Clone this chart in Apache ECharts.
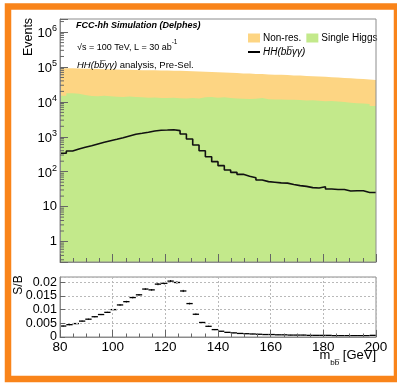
<!DOCTYPE html>
<html>
<head>
<meta charset="utf-8">
<script src="https://cdn.jsdelivr.net/npm/echarts@6/dist/echarts.min.js"></script>
<style>
html,body{margin:0;padding:0;background:#fff;}
#chart{width:397px;height:385px;}
</style>
</head>
<body>
<div id="chart"></div>
<script>
// ---- data ----
const binEdges = [80, 82.4, 84.8, 87.2, 89.6, 92, 94.4, 96.8, 99.2, 101.6, 104, 106.4, 108.8, 111.2, 113.6, 116, 118.4, 120.8, 123.2, 125.6, 128, 130.4, 132.8, 135.2, 137.6, 140, 142.4, 144.8, 147.2, 149.6, 152, 154.4, 156.8, 159.2, 161.6, 164, 166.4, 168.8, 171.2, 173.6, 176, 178.4, 180.8, 183.2, 185.6, 188, 190.4, 192.8, 195.2, 197.6];
const binWidth = 2.4;
const singleHiggs = [15000, 17600, 17000, 15700, 14800, 14600, 14900, 14400, 14100, 13900, 14300, 13700, 13500, 13200, 13400, 13000, 12900, 13100, 12700, 12600, 12900, 12500, 13500, 13800, 13200, 13600, 12900, 12500, 12300, 12100, 12400, 13000, 11900, 11700, 11800, 11500, 11600, 11300, 11000, 11100, 10700, 10500, 10600, 10200, 10000, 9500, 9200, 9000, 8700, 7600];
const nonRes = [76800, 74900, 74000, 73800, 73800, 72600, 71600, 71100, 70800, 70100, 69300, 68700, 67800, 67700, 66700, 66400, 65900, 64800, 64700, 63600, 62400, 61600, 59700, 58200, 57400, 55900, 55400, 54300, 53200, 52500, 50900, 49500, 49500, 48600, 47700, 47100, 45900, 45300, 44200, 43200, 42300, 41600, 40400, 39600, 38500, 37700, 36800, 36000, 35300, 35100];
const signalHH = [337, 392, 447, 500, 556, 622, 695, 773, 848, 942, 1055, 1180, 1259, 1345, 1466, 1535, 1560, 1600, 1500, 1203, 865, 582, 400, 269, 194, 149, 112, 96, 84, 74, 67, 58, 52, 50, 48, 47, 43, 40, 38, 35, 34, 37, 32, 31, 31, 28, 28.6, 28.5, 25.4, 25.4];
const sOverB = [0.0040, 0.0045, 0.0049, 0.0058, 0.0065, 0.0074, 0.0082, 0.0090, 0.0100, 0.0117, 0.0129, 0.0144, 0.0154, 0.0175, 0.0172, 0.0193, 0.0196, 0.0204, 0.0199, 0.0168, 0.0122, 0.0083, 0.0053, 0.0039, 0.0027, 0.0021, 0.0017, 0.0015, 0.0013, 0.0012, 0.0011, 0.0010, 0.0009, 0.0009, 0.0008, 0.0008, 0.0007, 0.0007, 0.0007, 0.0006, 0.0006, 0.0006, 0.0006, 0.0005, 0.0005, 0.0005, 0.0005, 0.0005, 0.0005, 0.0006];
const sOverBErr = [0.0002, 0.0002, 0.0002, 0.0002, 0.0002, 0.0002, 0.0002, 0.0002, 0.0002, 0.0003, 0.0003, 0.0003, 0.0003, 0.0003, 0.0003, 0.0004, 0.0004, 0.0004, 0.0004, 0.0004, 0.0003, 0.0003, 0.0002, 0.0002, 0.0002, 0.0001, 0.0001, 0.0001, 0.0001, 0.0001, 0.0001, 0.0001, 0.0001, 0.0001, 0.0001, 0.0001, 0.0001, 0.0001, 0.0001, 0.0001, 0.0001, 0.0001, 0.0001, 0.0001, 0.0001, 0.0001, 0.0001, 0.0001, 0.0001, 0.0001];
const xTicks = [80, 100, 120, 140, 160, 180, 200];
const yDecades = [1, 10, 100, 1000, 10000, 100000, 1000000];

const xMin = 80, xMax = 200;
const yMinLog = 0.259, yMaxLog = 2.37e6;
const sbMax = 0.0219;

const FONT = '"Liberation Sans", Arial, Helvetica, sans-serif';
const cGreen = '#c3e98b';
const cOrange = '#fdd583';
const cBorder = '#f9841a';

// stacked histogram: non-res sits on top of single Higgs
const stackedTotal = singleHiggs.map((v, i) => v + nonRes[i]);

function stepData(vals) {
  const d = binEdges.map((e, i) => [e, vals[i]]);
  d.push([binEdges[binEdges.length - 1] + binWidth, vals[vals.length - 1]]);
  return d;
}
// minor log ticks 2..9 x 10^n inside the range
const minorLog = [];
for (let n = -1; n <= 6; n++) {
  for (let k = 2; k <= 9; k++) {
    const v = k * Math.pow(10, n);
    if (v > yMinLog && v < yMaxLog) minorLog.push([xMin, v]);
  }
}

const HHname = 'HH(bb\u0305\u03b3\u03b3)';

const chart = echarts.init(document.getElementById('chart'), null, {renderer: 'canvas'});
const option = {
  animation: false,
  backgroundColor: '#fff',
  textStyle: {fontFamily: FONT},
  grid: [
    {left: 60, top: 19, width: 316, height: 243, show: true, borderColor: '#8c8c8c', borderWidth: 1, backgroundColor: 'transparent', z: 5, outerBoundsMode: 'none'},
    {left: 60, top: 277, width: 316, height: 60, show: true, borderColor: '#8c8c8c', borderWidth: 1, backgroundColor: 'transparent', z: 5, outerBoundsMode: 'none'}
  ],
  legend: [
    {
      data: ['Non-res.', 'Single Higgs'], left: 243, top: 28, orient: 'horizontal',
      itemWidth: 12, itemHeight: 9, itemGap: 5, icon: 'rect', selectedMode: false,
      textStyle: {fontFamily: FONT, fontSize: 10, color: '#000', padding: [0, 0, 0, -2]}
    },
    {
      data: [HHname], left: 243, top: 42, itemWidth: 12, itemHeight: 2, icon: 'rect', selectedMode: false,
      textStyle: {fontFamily: FONT, fontSize: 10, color: '#000', fontStyle: 'italic', padding: [0, 0, 0, -2]}
    }
  ],
  xAxis: [
    {
      type: 'value', gridIndex: 0, min: xMin, max: xMax, interval: 20, z: 10,
      axisLine: {show: true, lineStyle: {color: '#8c8c8c'}},
      axisTick: {show: true, inside: true, length: 8, lineStyle: {color: '#666'}},
      minorTick: {show: true, splitNumber: 4, length: 4, lineStyle: {color: '#666'}},
      axisLabel: {show: false}, splitLine: {show: false}
    },
    {
      type: 'value', gridIndex: 1, min: xMin, max: xMax, interval: 20, z: 10,
      axisLine: {show: true, lineStyle: {color: '#8c8c8c'}},
      axisTick: {show: true, inside: true, length: 7, lineStyle: {color: '#666'}},
      minorTick: {show: true, splitNumber: 4, length: 3.5, lineStyle: {color: '#666'}},
      axisLabel: {show: true, fontFamily: FONT, fontSize: 13.5, color: '#000', margin: 3},
      splitLine: {show: true, lineStyle: {color: '#b9b9b9', type: [2, 2], width: 1}}
    }
  ],
  yAxis: [
    {
      type: 'log', logBase: 10, gridIndex: 0, min: yMinLog, max: yMaxLog, z: 10,
      axisLine: {show: true, lineStyle: {color: '#8c8c8c'}},
      axisTick: {show: true, inside: true, length: 8, lineStyle: {color: '#666'}},
      splitLine: {show: false},
      axisLabel: {
        show: true, margin: 3, fontFamily: FONT, fontSize: 13, color: '#000',
        formatter: function (v) {
          const l = Math.log10(v);
          const e = Math.round(l);
          if (Math.abs(l - e) > 1e-6) return '';
          if (e === 0) return '1';
          if (e === 1) return '10';
          return '{b|10}{s|' + e + '}';
        },
        rich: {
          b: {fontFamily: FONT, fontSize: 13, lineHeight: 16, verticalAlign: 'bottom', color: '#000'},
          s: {fontFamily: FONT, fontSize: 9, lineHeight: 16, verticalAlign: 'top', color: '#000'}
        }
      }
    },
    {
      type: 'value', gridIndex: 1, min: 0, max: sbMax, interval: 0.005, z: 10,
      axisLine: {show: true, lineStyle: {color: '#8c8c8c'}},
      axisTick: {show: true, inside: true, length: 5, lineStyle: {color: '#666'}},
      splitLine: {show: true, lineStyle: {color: '#b9b9b9', type: [2, 2], width: 1}},
      axisLabel: {show: true, showMaxLabel: false, margin: 3, fontFamily: FONT, fontSize: 12.5, color: '#000',
        formatter: function (v) { return Math.abs(v / 0.005 - Math.round(v / 0.005)) > 1e-6 ? '' : String(+v.toFixed(4)); }
      }
    }
  ],
  series: [
    {
      name: 'Non-res.', type: 'line', xAxisIndex: 0, yAxisIndex: 0, step: 'end',
      data: stepData(stackedTotal), showSymbol: false, symbol: 'none', z: 1,
      color: cOrange, lineStyle: {width: 0, color: cOrange}, areaStyle: {color: cOrange, opacity: 1, origin: 'start'}
    },
    {
      name: 'Single Higgs', type: 'line', xAxisIndex: 0, yAxisIndex: 0, step: 'end',
      data: stepData(singleHiggs), showSymbol: false, symbol: 'none', z: 2,
      color: cGreen, lineStyle: {width: 0, color: cGreen}, areaStyle: {color: cGreen, opacity: 1, origin: 'start'}
    },
    {
      name: HHname, type: 'line', xAxisIndex: 0, yAxisIndex: 0, step: 'end',
      data: stepData(signalHH), showSymbol: false, symbol: 'none', z: 3,
      color: '#000', lineStyle: {width: 1.6, color: '#111'}
    },
    {
      name: 'minorLogTicks', type: 'custom', xAxisIndex: 0, yAxisIndex: 0, z: 11, silent: true,
      data: minorLog, encode: {x: 0, y: 1}, clip: false,
      renderItem: function (params, api) {
        const p = api.coord([api.value(0), api.value(1)]);
        return {type: 'line', shape: {x1: p[0], y1: p[1], x2: p[0] + 4, y2: p[1]}, style: {stroke: '#666', lineWidth: 1}};
      }
    },
    {
      name: 'S/B', type: 'custom', xAxisIndex: 1, yAxisIndex: 1, z: 4,
      data: sOverB.map((v, i) => [binEdges[i], binEdges[i] + binWidth, v, sOverBErr[i]]),
      encode: {x: [0, 1], y: 2},
      renderItem: function (params, api) {
        const lo = api.coord([api.value(0), api.value(2)]);
        const hi = api.coord([api.value(1), api.value(2)]);
        const mid = (api.value(0) + api.value(1)) / 2;
        const top = api.coord([mid, api.value(2) + api.value(3)]);
        const bot = api.coord([mid, api.value(2) - api.value(3)]);
        return {type: 'group', children: [
          {type: 'line', shape: {x1: lo[0], y1: lo[1], x2: hi[0], y2: hi[1]}, style: {stroke: '#000', lineWidth: 1.3}},
          {type: 'line', shape: {x1: top[0], y1: top[1], x2: bot[0], y2: bot[1]}, style: {stroke: '#000', lineWidth: 1}}
        ]};
      }
    }
  ],
  graphic: [
    {type: 'rect', z: 100, silent: true, shape: {x: 8, y: 6.5, width: 389, height: 372.5}, style: {fill: 'none', stroke: cBorder, lineWidth: 6.5}},
    {type: 'text', z: 50, x: 29, y: 37, rotation: Math.PI / 2, style: {text: 'Events', fontFamily: FONT, fontSize: 12.5, fill: '#000', align: 'center', verticalAlign: 'middle'}},
    {type: 'text', z: 50, x: 19, y: 285, rotation: Math.PI / 2, style: {text: 'S/B', fontFamily: FONT, fontSize: 12, fill: '#000', align: 'center', verticalAlign: 'middle'}},
    {type: 'text', z: 50, x: 76, y: 25.7, style: {text: 'FCC-hh Simulation (Delphes)', fontFamily: FONT, fontSize: 9, fontWeight: 'bold', fontStyle: 'italic', fill: '#000', align: 'left', verticalAlign: 'middle'}},
    {type: 'text', z: 50, x: 77, y: 45.7, style: {
      text: '{n|\u221as = 100 TeV, L = 30 ab}{s|-1}', align: 'left', verticalAlign: 'middle',
      rich: {n: {fontFamily: FONT, fontSize: 9, lineHeight: 13, verticalAlign: 'bottom', fill: '#000'}, s: {fontFamily: FONT, fontSize: 6.5, lineHeight: 13, verticalAlign: 'top', fill: '#000'}}
    }},
    {type: 'text', z: 50, x: 77, y: 65, style: {
      text: '{i|' + HHname + '}{n| analysis, Pre-Sel.}', align: 'left', verticalAlign: 'middle',
      rich: {i: {fontFamily: FONT, fontSize: 9.5, fontStyle: 'italic', fill: '#000'}, n: {fontFamily: FONT, fontSize: 9.5, fill: '#000'}}
    }},
    {type: 'text', z: 50, x: 376, y: 357.5, style: {
      text: '{m|m}{sub|bb\u0305}{m| [GeV]}', align: 'right', verticalAlign: 'middle',
      rich: {m: {fontFamily: FONT, fontSize: 13, lineHeight: 18, verticalAlign: 'top', fill: '#000'}, sub: {fontFamily: FONT, fontSize: 8, lineHeight: 18, verticalAlign: 'bottom', fill: '#000'}}
    }}
  ]
};
chart.setOption(option);
</script>
</body>
</html>
